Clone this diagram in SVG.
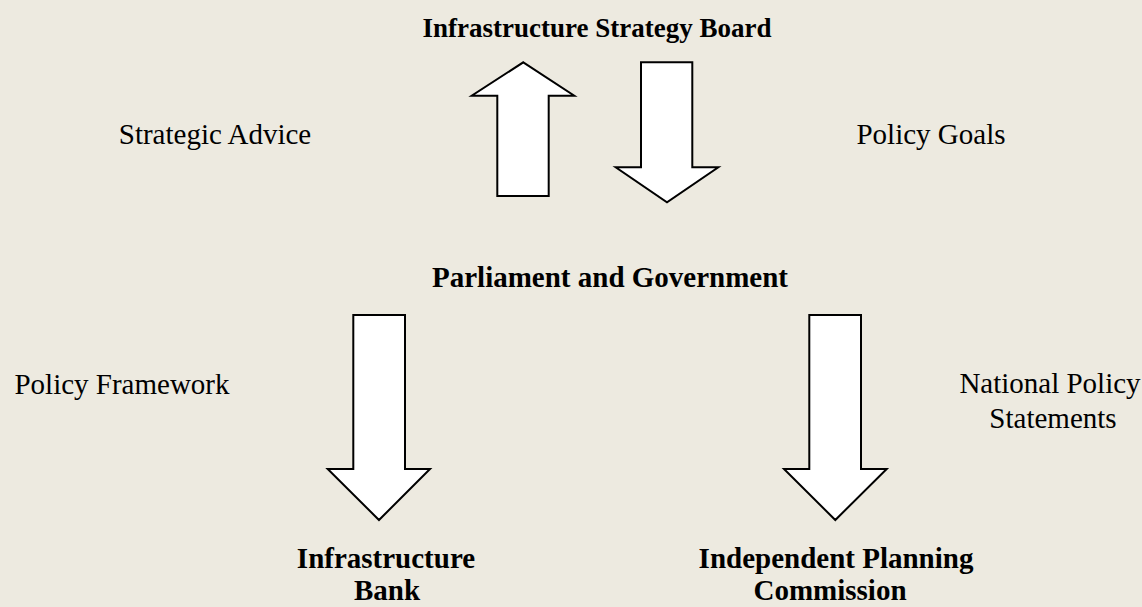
<svg xmlns="http://www.w3.org/2000/svg" width="1142" height="607" viewBox="0 0 1142 607">
<style>
.bg{fill:#EDEAE0}
.arrow{fill:#FFFFFF;stroke:#000000;stroke-width:2;stroke-linejoin:miter}
.t{font-family:"Liberation Serif","Times New Roman",serif;font-size:29px;fill:#000000;text-anchor:middle}
.b{font-weight:bold}
</style>
<rect class="bg" x="0" y="0" width="1142" height="607"/>
<g id="node-board"><text class="t b" x="597" y="37" style="font-size:27px">Infrastructure Strategy Board</text></g>
<g id="node-parliament"><text class="t b" x="610" y="287">Parliament and Government</text></g>
<g id="node-bank"><text class="t b" x="386" y="568">Infrastructure</text><text class="t b" x="387" y="600">Bank</text></g>
<g id="node-ipc"><text class="t b" x="836" y="568">Independent Planning</text><text class="t b" x="830" y="600">Commission</text></g>
<g id="connectors">
<g id="edge-advice">
<polygon class="arrow" points="523.3,62.3 574.3,95.7 548.7,95.7 548.7,196 497.3,196 497.3,95.7 471.7,95.7"/>
<text class="t" x="215" y="144">Strategic Advice</text>
</g>
<g id="edge-goals">
<polygon class="arrow" points="641,62.3 692.3,62.3 692.3,167.3 718.3,167.3 667,202.3 615.7,167.3 641,167.3"/>
<text class="t" x="931" y="144">Policy Goals</text>
</g>
<g id="edge-framework">
<polygon class="arrow" points="353.3,315 405,315 405,469 430,469 379,520 327.7,469 353.3,469"/>
<text class="t" x="122" y="394">Policy Framework</text>
</g>
<g id="edge-nps">
<polygon class="arrow" points="809.3,315 861,315 861,469 886.7,469 835.3,520 784,469 809.3,469"/>
<text class="t" x="1050" y="393">National Policy</text>
<text class="t" x="1053" y="428">Statements</text>
</g>
</g>
</svg>
